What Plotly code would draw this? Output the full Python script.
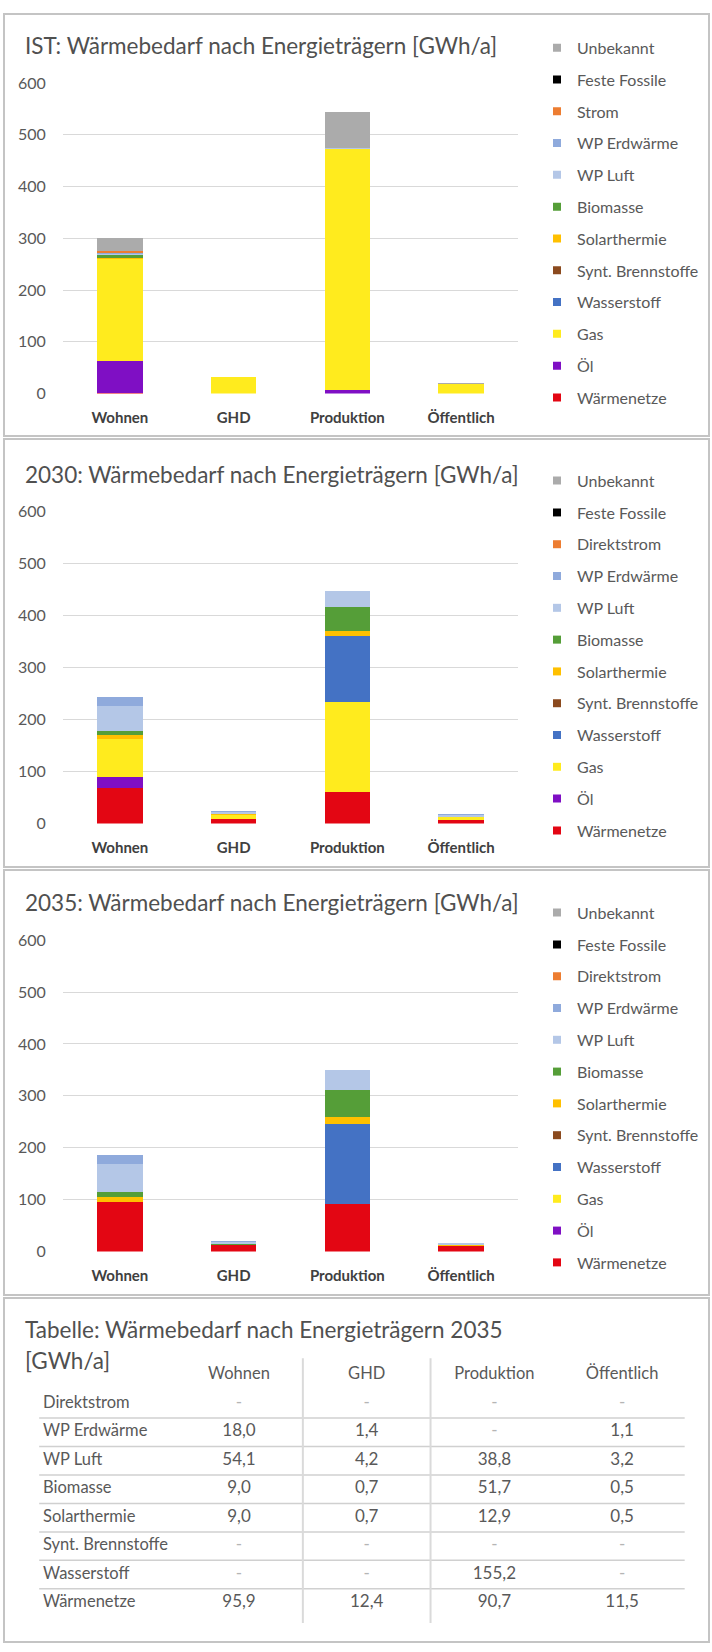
import plotly.graph_objects as go

W, H = 712, 1652
FONT = "Lato"

categories = ["Wohnen", "GHD", "Produktion", "Öffentlich"]

# stacking order (bottom -> top)
carriers = ["Wärmenetze", "Öl", "Gas", "Wasserstoff", "Synt. Brennstoffe", "Solarthermie",
            "Biomasse", "WP Luft", "WP Erdwärme", "Strom", "Feste Fossile", "Unbekannt"]
carrier_colors = ["#E30613", "#7F0FC4", "#FFEB1E", "#4472C4", "#8B4A1E", "#FFC000",
                  "#559E38", "#B4C7E7", "#8FAADC", "#ED7D31", "#000000", "#ABABAB"]

# ---- IST [GWh/a] ----
ist_waermenetze = [1, 0, 0, 0]
ist_oel = [62, 0, 7, 0]
ist_gas = [198, 31, 466, 18]
ist_wasserstoff = [0, 0, 0, 0]
ist_synt = [0, 0, 0, 0]
ist_solar = [1, 0.5, 0, 0]
ist_bio = [5, 0, 0, 0]
ist_wp_luft = [2, 0, 1, 0]
ist_wp_erd = [2, 0, 0, 0]
ist_strom = [4, 0, 1, 0.5]
ist_fest = [0, 0, 0, 0]
ist_unbekannt = [25, 1, 69, 1]

# ---- 2030 [GWh/a] ----
y2030_waermenetze = [68, 8, 60, 6]
y2030_oel = [22, 0.5, 0, 0]
y2030_gas = [72, 8, 173, 6]
y2030_wasserstoff = [0, 0, 128, 0]
y2030_synt = [0, 0, 0, 0]
y2030_solar = [8, 1, 9, 1]
y2030_bio = [7, 1, 46, 0.5]
y2030_wp_luft = [48, 4, 30, 3]
y2030_wp_erd = [18, 2, 0, 1.5]
y2030_strom = [0, 0, 0, 0]
y2030_fest = [0, 0, 0, 0]
y2030_unbekannt = [0, 0, 0, 0]

# ---- 2035 [GWh/a] ----
y2035_waermenetze = [95.9, 12.4, 90.7, 11.5]
y2035_oel = [0, 0, 0, 0]
y2035_gas = [0, 0, 0, 0]
y2035_wasserstoff = [0, 0, 155.2, 0]
y2035_synt = [0, 0, 0, 0]
y2035_solar = [9.0, 0.7, 12.9, 0.5]
y2035_bio = [9.0, 0.7, 51.7, 0.5]
y2035_wp_luft = [54.1, 4.2, 38.8, 3.2]
y2035_wp_erd = [18.0, 1.4, 0, 1.1]
y2035_strom = [0, 0, 0, 0]
y2035_fest = [0, 0, 0, 0]
y2035_unbekannt = [0, 0, 0, 0]

panel_titles = ["IST: Wärmebedarf nach Energieträgern [GWh/a]",
                "2030: Wärmebedarf nach Energieträgern [GWh/a]",
                "2035: Wärmebedarf nach Energieträgern [GWh/a]"]
strom_labels = ["Strom", "Direktstrom", "Direktstrom"]
y_ticks = [0, 100, 200, 300, 400, 500, 600]

table_title = "Tabelle: Wärmebedarf nach Energieträgern 2035"
table_unit = "[GWh/a]"
table_rows = ["Direktstrom", "WP Erdwärme", "WP Luft", "Biomasse", "Solarthermie",
              "Synt. Brennstoffe", "Wasserstoff", "Wärmenetze"]

scenarios = [
    [ist_waermenetze, ist_oel, ist_gas, ist_wasserstoff, ist_synt, ist_solar, ist_bio,
     ist_wp_luft, ist_wp_erd, ist_strom, ist_fest, ist_unbekannt],
    [y2030_waermenetze, y2030_oel, y2030_gas, y2030_wasserstoff, y2030_synt, y2030_solar,
     y2030_bio, y2030_wp_luft, y2030_wp_erd, y2030_strom, y2030_fest, y2030_unbekannt],
    [y2035_waermenetze, y2035_oel, y2035_gas, y2035_wasserstoff, y2035_synt, y2035_solar,
     y2035_bio, y2035_wp_luft, y2035_wp_erd, y2035_strom, y2035_fest, y2035_unbekannt],
]
table_data = [y2035_strom, y2035_wp_erd, y2035_wp_luft, y2035_bio, y2035_solar,
              y2035_synt, y2035_wasserstoff, y2035_waermenetze]

# ---------------- layout geometry (pixels) ----------------
def py(p):
    return 1 - p / H

def px(p):
    return p / W

plot_x = (63, 518)
panel_grid = [(74, 388), (507, 823), (941, 1256)]     # y of 600-line and 0-line
panel_box = [(4, 431), (434, 867), (870, 1300)]
title_y = [36, 470, 903]
legend_top = [21, 459, 896]

fig = go.Figure()
layout = dict(
    width=W, height=H, margin=dict(l=0, r=0, t=0, b=0),
    paper_bgcolor="white", plot_bgcolor="white",
    barmode="stack", bargap=0.6,
    font=dict(family=FONT, color="#595959", size=14),
    showlegend=True, annotations=[], shapes=[],
)

for k in range(3):
    ax = "" if k == 0 else str(k + 1)
    xa, ya = "x" + ax, "y" + ax
    leg = "legend" + ax
    data = scenarios[k]
    for name, col, vals in zip(carriers, carrier_colors, data):
        fig.add_trace(go.Bar(x=categories, y=vals, name=name, marker=dict(color=col, line=dict(width=0)),
                             xaxis=xa, yaxis=ya, showlegend=False, hoverinfo="skip"))
    # legend entries (top -> bottom)
    for name, col in reversed(list(zip(carriers, carrier_colors))):
        label = strom_labels[k] if name == "Strom" else name
        fig.add_trace(go.Scatter(x=[None], y=[None], mode="markers", name=label,
                                 marker=dict(symbol="square", size=8, color=col),
                                 xaxis=xa, yaxis=ya, legend=leg, legendgroup=f"{k}_{name}",
                                 showlegend=True, hoverinfo="skip"))
    g0, g1 = panel_grid[k]
    layout["xaxis" + ax] = dict(domain=[px(plot_x[0]), px(plot_x[1])], anchor=ya,
                                showgrid=False, zeroline=False, showline=False,
                                ticks="outside", ticklen=10, tickcolor="rgba(0,0,0,0)",
                                tickfont=dict(family=FONT, size=15, color="#404040", weight="bold"),
                                fixedrange=True)
    layout["yaxis" + ax] = dict(domain=[py(g1), py(g0)], anchor=xa, range=[0, 600],
                                tickvals=y_ticks, showgrid=True, gridcolor="#D9D9D9", gridwidth=1,
                                zeroline=False, showline=False,
                                ticks="outside", ticklen=13, tickcolor="rgba(0,0,0,0)",
                                tickfont=dict(family=FONT, size=16, color="#595959"),
                                fixedrange=True)
    layout[leg] = dict(x=px(537), y=py(legend_top[k]), xanchor="left", yanchor="top",
                       bgcolor="rgba(0,0,0,0)", borderwidth=0, traceorder="grouped",
                       tracegroupgap=8, font=dict(family=FONT, size=16, color="#595959"),
                       itemclick=False, itemdoubleclick=False)
    layout["annotations"].append(dict(text=panel_titles[k], x=px(23), y=py(title_y[k]),
                                      xref="paper", yref="paper", xanchor="left", yanchor="middle",
                                      showarrow=False, font=dict(family=FONT, size=22.5, color="#505050")))
    b0, b1 = panel_box[k]
    layout["shapes"].append(dict(type="rect", xref="paper", yref="paper", x0=px(4), x1=px(709),
                                 y0=py(b1), y1=py(b0), line=dict(color="#C4C4C4", width=2),
                                 layer="below"))

# ---------------- table ----------------
table_box = (1303, 1652)
row0_px, row_h = 1410, 28.8
col1_px, col_w = 239, 127.7
xr0 = 1 - col1_px / col_w
xr1 = xr0 + W / col_w
yr_top = (table_box[0] - row0_px) / row_h
yr_bot = (table_box[1] - row0_px) / row_h
label_x = xr0 + 43 / col_w
col_pos = [1, 2, 3, 4]

layout["shapes"].append(dict(type="rect", xref="paper", yref="paper", x0=px(4), x1=px(709),
                             y0=py(1651), y1=py(table_box[0]), line=dict(color="#C4C4C4", width=2),
                             layer="below"))
layout["xaxis4"] = dict(domain=[0, 1], range=[xr0, xr1], anchor="y4", visible=False, fixedrange=True)
layout["yaxis4"] = dict(domain=[0, py(table_box[0])], range=[yr_bot, yr_top], anchor="x4",
                        visible=False, fixedrange=True)

# header
fig.add_trace(go.Scatter(x=col_pos, y=[-1] * 4, mode="text", text=categories,
                         textposition="middle center", xaxis="x4", yaxis="y4", showlegend=False,
                         hoverinfo="skip", textfont=dict(family=FONT, size=16.5, color="#595959")))
# row labels
fig.add_trace(go.Scatter(x=[label_x] * len(table_rows), y=list(range(len(table_rows))), mode="text",
                         text=table_rows, textposition="middle right", xaxis="x4", yaxis="y4",
                         showlegend=False, hoverinfo="skip",
                         textfont=dict(family=FONT, size=16.5, color="#595959")))
for i, vals in enumerate(table_data):
    txt = [("-" if v == 0 else f"{v:.1f}".replace(".", ",")) for v in vals]
    cols = [("#B5B5B5" if v == 0 else "#595959") for v in vals]
    fig.add_trace(go.Scatter(x=col_pos, y=[i] * 4, mode="text", text=txt, textposition="middle center",
                             xaxis="x4", yaxis="y4", showlegend=False, hoverinfo="skip",
                             textfont=dict(family=FONT, size=17, color=cols)))
    if i < len(table_data) - 1:
        layout["shapes"].append(dict(type="line", xref="x4", yref="y4", x0=label_x - 0.03, x1=4.49,
                                     y0=i + 0.5, y1=i + 0.5, line=dict(color="#D0D0D0", width=1.5)))
for sep in [1.5, 2.5]:
    layout["shapes"].append(dict(type="line", xref="x4", yref="y4", x0=sep, x1=sep,
                                 y0=-1.6, y1=len(table_rows) - 0.3,
                                 line=dict(color="#DADADA", width=2)))

layout["annotations"].append(dict(text=table_title, x=px(23), y=py(1335), xref="paper", yref="paper",
                                  xanchor="left", yanchor="middle", showarrow=False,
                                  font=dict(family=FONT, size=22.5, color="#505050")))
layout["annotations"].append(dict(text=table_unit, x=px(23), y=py(1366), xref="paper", yref="paper",
                                  xanchor="left", yanchor="middle", showarrow=False,
                                  font=dict(family=FONT, size=22.5, color="#505050")))

fig.update_layout(**layout)
fig.write_html("out.html", config={"displayModeBar": False, "staticPlot": True},
               post_script="document.body.style.margin='0';")
